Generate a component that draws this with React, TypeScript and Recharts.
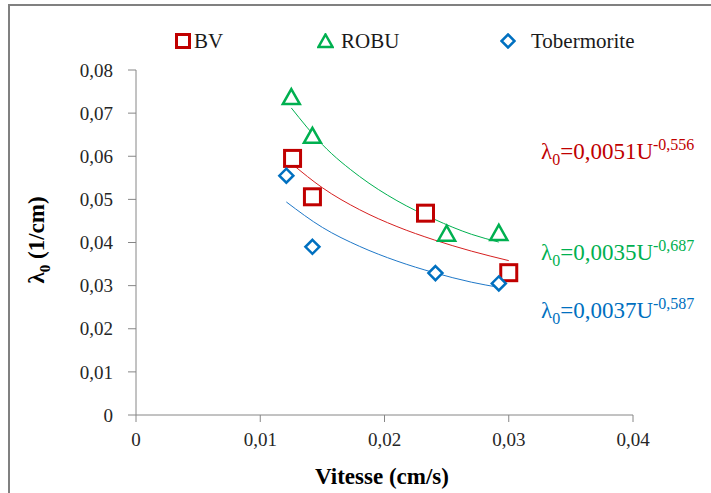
import React from 'react';
import { ComposedChart, Scatter, Line, XAxis, YAxis } from 'recharts';

// measured points (Vitesse cm/s, lambda0 1/cm)
const bvPoints = [
  { x: 0.0126, y: 0.0595 },
  { x: 0.0142, y: 0.0506 },
  { x: 0.0233, y: 0.0468 },
  { x: 0.0300, y: 0.0330 },
];
const robuPoints = [
  { x: 0.0125, y: 0.0735 },
  { x: 0.0142, y: 0.0645 },
  { x: 0.0250, y: 0.0418 },
  { x: 0.0292, y: 0.0420 },
];
const tobPoints = [
  { x: 0.0121, y: 0.0555 },
  { x: 0.0142, y: 0.0390 },
  { x: 0.0241, y: 0.0329 },
  { x: 0.0292, y: 0.0305 },
];

// power trendlines
const bvTrend = [
  { x: 0.0126, y: 0.0581 },
  { x: 0.015, y: 0.0527 },
  { x: 0.018, y: 0.0476 },
  { x: 0.021, y: 0.0437 },
  { x: 0.024, y: 0.0406 },
  { x: 0.027, y: 0.0380 },
  { x: 0.030, y: 0.0358 },
];
const robuTrend = [
  { x: 0.0125, y: 0.0712 },
  { x: 0.015, y: 0.0627 },
  { x: 0.018, y: 0.0553 },
  { x: 0.021, y: 0.0497 },
  { x: 0.024, y: 0.0454 },
  { x: 0.027, y: 0.0419 },
  { x: 0.0292, y: 0.0401 },
];
const tobTrend = [
  { x: 0.0121, y: 0.0494 },
  { x: 0.015, y: 0.0435 },
  { x: 0.018, y: 0.0391 },
  { x: 0.021, y: 0.0357 },
  { x: 0.024, y: 0.0330 },
  { x: 0.027, y: 0.0308 },
  { x: 0.0292, y: 0.0296 },
];

const xTicks = [0, 0.01, 0.02, 0.03, 0.04];
const yTicks = [0, 0.01, 0.02, 0.03, 0.04, 0.05, 0.06, 0.07, 0.08];

const RED = '#c00000';
const GREEN = '#00b050';
const BLUE = '#0070c0';
const AXIS = '#868686';
const FONT = '"Liberation Serif", "Times New Roman", serif';

const fmt = (v: number) => (v === 0 ? '0' : v.toFixed(2).replace('.', ','));

const Square = (p: any) => (
  <rect x={p.cx - 8} y={p.cy - 8} width={16} height={16} fill="#fff" stroke={RED} strokeWidth={3} />
);
const Triangle = (p: any) => (
  <polygon
    points={`${p.cx},${p.cy - 9} ${p.cx + 8.5},${p.cy + 6} ${p.cx - 8.5},${p.cy + 6}`}
    fill="#fff"
    stroke={GREEN}
    strokeWidth={2.5}
  />
);
const Diamond = (p: any) => (
  <polygon
    points={`${p.cx},${p.cy - 7} ${p.cx + 7},${p.cy} ${p.cx},${p.cy + 7} ${p.cx - 7},${p.cy}`}
    fill="#fff"
    stroke={BLUE}
    strokeWidth={2.5}
  />
);

function Equation({ a, b, color, top }: { a: string; b: string; color: string; top: number }) {
  return (
    <div style={{ position: 'absolute', left: 541, top, color, fontFamily: FONT, fontSize: 23, lineHeight: '26px', whiteSpace: 'nowrap' }}>
      λ<sub style={{ fontSize: 16, lineHeight: 0 }}>0</sub>={a}U<sup style={{ fontSize: 16, lineHeight: 0 }}>{b}</sup>
    </div>
  );
}

export default function App() {
  return (
    <div style={{ position: 'absolute', left: 0, top: 0, width: 711, height: 493, background: '#fff', overflow: 'hidden' }}>
      <div style={{ position: 'absolute', left: 8, top: 4, width: 720, height: 500, borderLeft: '2px solid #808080', borderTop: '2px solid #808080' }} />
      <ComposedChart width={711} height={493} margin={{ top: 70, right: 78, bottom: 38, left: 0 }}>
        <XAxis
          type="number"
          dataKey="x"
          domain={[0, 0.04]}
          ticks={xTicks}
          tickFormatter={fmt}
          stroke={AXIS}
          tickSize={7}
          tickMargin={11}
          height={40}
          tick={{ fill: '#262626', fontSize: 19, fontFamily: FONT }}
        />
        <YAxis
          type="number"
          dataKey="y"
          domain={[0, 0.08]}
          ticks={yTicks}
          tickFormatter={fmt}
          stroke={AXIS}
          tickSize={8}
          tickMargin={15}
          width={136}
          tick={{ fill: '#262626', fontSize: 19, fontFamily: FONT }}
        />
        <Line data={robuTrend} dataKey="y" type="monotone" stroke={GREEN} strokeWidth={1} dot={false} isAnimationActive={false} />
        <Line data={bvTrend} dataKey="y" type="monotone" stroke="#d62020" strokeWidth={1} dot={false} isAnimationActive={false} />
        <Line data={tobTrend} dataKey="y" type="monotone" stroke="#1f78c8" strokeWidth={1} dot={false} isAnimationActive={false} />
        <Scatter data={bvPoints} dataKey="y" shape={Square} isAnimationActive={false} />
        <Scatter data={robuPoints} dataKey="y" shape={Triangle} isAnimationActive={false} />
        <Scatter data={tobPoints} dataKey="y" shape={Diamond} isAnimationActive={false} />
      </ComposedChart>

      {/* legend */}
      <div style={{ position: 'absolute', left: 0, top: 28, width: 711, height: 28, fontFamily: FONT, fontSize: 21, lineHeight: '26px', color: '#1a1a1a' }}>
        <svg width={16} height={16} style={{ position: 'absolute', left: 175, top: 5 }}>
          <rect x={1.5} y={1.5} width={13} height={13} fill="#fff" stroke={RED} strokeWidth={3} />
        </svg>
        <span style={{ position: 'absolute', left: 194, top: 0 }}>BV</span>
        <svg width={17} height={16} style={{ position: 'absolute', left: 317, top: 5 }}>
          <polygon points="8.5,1.5 15.5,14 1.5,14" fill="#fff" stroke={GREEN} strokeWidth={2.5} />
        </svg>
        <span style={{ position: 'absolute', left: 341, top: 0 }}>ROBU</span>
        <svg width={16} height={16} style={{ position: 'absolute', left: 500, top: 5 }}>
          <polygon points="8,1.5 14.5,8 8,14.5 1.5,8" fill="#fff" stroke={BLUE} strokeWidth={2.5} />
        </svg>
        <span style={{ position: 'absolute', left: 531, top: 0 }}>Tobermorite</span>
      </div>

      <Equation a="0,0051" b="-0,556" color={RED} top={139} />
      <Equation a="0,0035" b="-0,687" color={GREEN} top={240} />
      <Equation a="0,0037" b="-0,587" color={BLUE} top={298} />

      {/* axis titles */}
      <div style={{ position: 'absolute', left: 382, top: 464, transform: 'translateX(-50%)', fontFamily: FONT, fontSize: 23, lineHeight: '26px', fontWeight: 'bold', whiteSpace: 'nowrap' }}>
        Vitesse (cm/s)
      </div>
      <div style={{ position: 'absolute', left: 37, top: 240, transform: 'translate(-50%, -50%) rotate(-90deg)', fontFamily: FONT, fontSize: 23, lineHeight: '26px', fontWeight: 'bold', whiteSpace: 'nowrap' }}>
        λ<sub style={{ fontSize: 15, lineHeight: 0 }}>0</sub> (1/cm)
      </div>
    </div>
  );
}
